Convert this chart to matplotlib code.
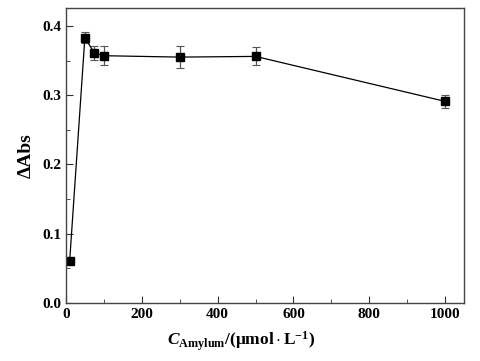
import numpy as np
import matplotlib
matplotlib.use("Agg")
import matplotlib.pyplot as plt
from matplotlib.ticker import MultipleLocator

conc = [10, 50, 75, 100, 300, 500, 1000]
dabs = [0.061, 0.383, 0.361, 0.357, 0.355, 0.356, 0.291]
err = [0.003, 0.008, 0.010, 0.014, 0.016, 0.013, 0.009]

plt.rcParams["font.family"] = ["Liberation Serif", "DejaVu Serif"]
plt.rcParams["font.weight"] = "bold"
plt.rcParams["mathtext.fontset"] = "custom"
plt.rcParams["mathtext.rm"] = "Liberation Serif"
plt.rcParams["mathtext.bf"] = "Liberation Serif:bold"
plt.rcParams["mathtext.it"] = "Liberation Serif:italic"
plt.rcParams["mathtext.bfit"] = "Liberation Serif:bold:italic"

fig = plt.figure(figsize=(4.81, 3.61), dpi=100)
ax = fig.add_axes([0.137, 0.161, 0.828, 0.817])

ax.errorbar(conc, dabs, yerr=err, fmt="s-", color="black", ms=6, lw=0.9,
            ecolor="#555555", elinewidth=0.9, capsize=3, capthick=0.8)

ax.set_xlim(0, 1050)
ax.set_ylim(0, 0.426)
ax.xaxis.set_major_locator(MultipleLocator(200))
ax.xaxis.set_minor_locator(MultipleLocator(100))
ax.yaxis.set_major_locator(MultipleLocator(0.1))
ax.yaxis.set_minor_locator(MultipleLocator(0.05))
ax.tick_params(which="both", direction="in", labelsize=11, color="#333333")
ax.tick_params(which="major", length=5)
ax.tick_params(which="minor", length=3)
for s in ax.spines.values():
    s.set_color("#444444")
    s.set_linewidth(1.0)

ax.set_ylabel("ΔAbs", fontsize=14, fontweight="bold")
ax.yaxis.set_label_coords(-0.078, 0.5)
ax.set_xlabel(r"$\mathbfit{C}_{\mathbf{Amylum}}\mathbf{/(\mu mol\cdot L^{-1})}$",
              fontsize=12.5)
ax.xaxis.set_label_coords(0.44, -0.09)

fig.savefig("out.png", dpi=100)
